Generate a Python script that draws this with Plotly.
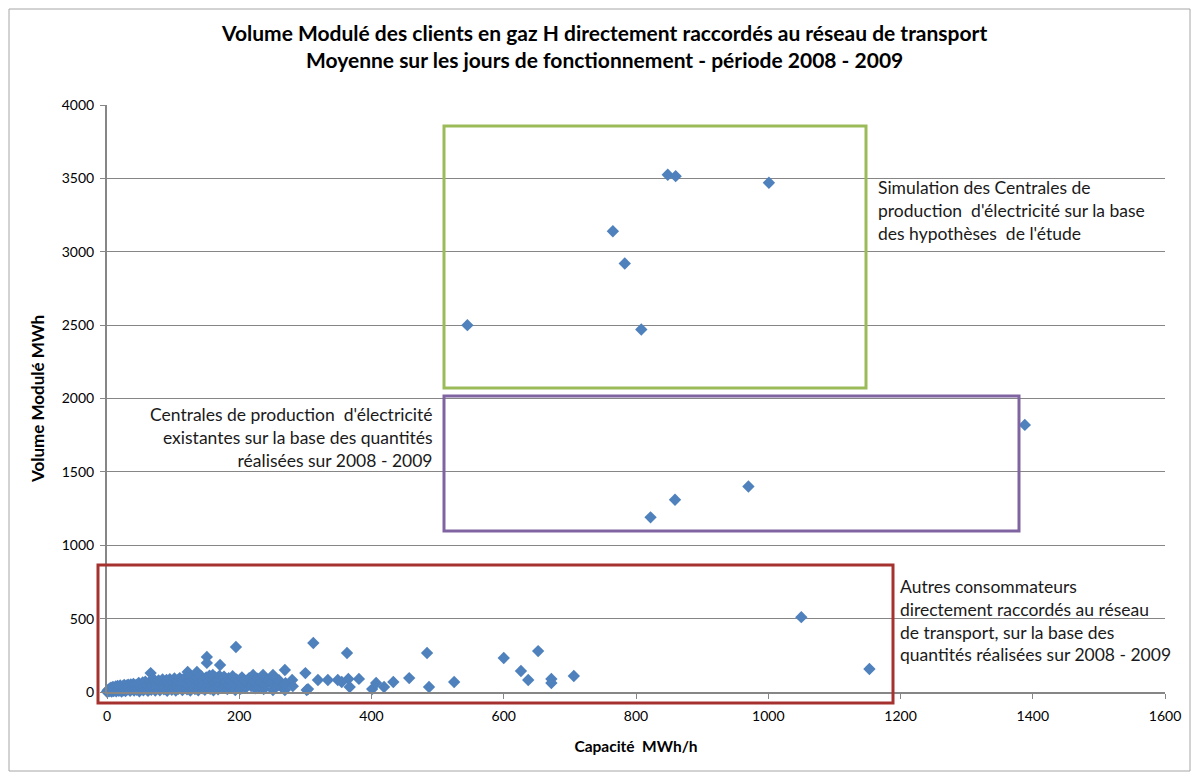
import plotly.graph_objects as go

# ---- data ----
# Autres consommateurs (raccordés au réseau de transport)
autres_x = [0, 1, 2, 3, 4, 5, 6, 7, 8, 9, 10, 11, 12, 13, 14, 15, 16, 17, 18, 19,
            20, 21, 22, 24, 25, 26, 27, 28, 30, 31, 32, 34, 35, 36, 38, 40, 41, 42, 44, 45,
            46, 48, 49, 50, 52, 54, 55, 56, 58, 60, 61, 62, 64, 65, 66, 67, 68, 70, 72, 73,
            74, 75, 77, 78, 80, 82, 84, 85, 86, 88, 90, 91, 92, 94, 95, 96, 98, 100, 101, 102,
            104, 105, 107, 108, 110, 111, 112, 114, 115, 116, 118, 120, 121, 122, 123, 125, 126, 128, 129, 130,
            132, 133, 135, 136, 137, 138, 140, 141, 142, 144, 145, 146, 148, 150, 151, 151, 152, 154, 155, 156,
            158, 159, 160, 161, 163, 164, 165, 167, 168, 170, 171, 172, 174, 175, 177, 178, 180, 182, 184, 185,
            187, 189, 190, 192, 195, 194, 196, 198, 200, 202, 204, 206, 208, 210, 212, 215, 218, 221, 222, 224,
            226, 228, 230, 233, 236, 237, 240, 244, 248, 251, 251, 254, 259, 260, 265, 269, 269, 270, 280, 281,
            300, 302, 304, 312, 319, 334, 349, 355, 363, 365, 367, 381, 401, 407, 419, 433, 457, 484, 487, 525,
            600, 626, 637, 652, 672, 672, 706, 1050, 1153]
autres_y = [2, 8, 15, 4, 22, 10, 30, 3, 18, 35, 6, 25, 12, 38, 5, 28, 42, 15, 8, 32,
            45, 20, 3, 40, 12, 48, 25, 6, 45, 18, 50, 30, 8, 52, 22, 55, 10, 35, 48, 15,
            28, 62, 5, 40, 22, 65, 12, 33, 70, 18, 45, 8, 28, 72, 129, 15, 50, 35, 80, 10,
            55, 25, 42, 78, 12, 30, 85, 50, 18, 38, 82, 8, 55, 25, 88, 45, 15, 70, 32, 92,
            10, 48, 80, 22, 95, 38, 58, 14, 85, 30, 52, 98, 18, 136, 42, 75, 10, 105, 30, 55,
            88, 20, 45, 136, 95, 12, 70, 35, 110, 25, 80, 50, 15, 100, 239, 198, 40, 75, 112, 22,
            90, 48, 116, 12, 60, 100, 32, 85, 18, 110, 184, 50, 78, 28, 105, 40, 68, 20, 95, 45,
            75, 30, 108, 55, 307, 14, 85, 40, 70, 22, 100, 48, 78, 30, 62, 95, 40, 116, 70, 25,
            55, 90, 35, 68, 116, 20, 50, 80, 61, 14, 116, 40, 48, 80, 30, 14, 150, 60, 82, 40,
            129, 14, 20, 334, 82, 82, 82, 68, 266, 89, 34, 89, 20, 61, 34, 68, 95, 266, 34, 68,
            232, 143, 82, 279, 89, 61, 109, 510, 157]

# Centrales existantes (quantités réalisées 2008 - 2009)
existantes_x = [822, 859, 970, 1388]
existantes_y = [1190, 1310, 1400, 1820]

# Simulation des centrales (hypothèses de l'étude)
simulation_x = [545, 765, 783, 808, 848, 860, 1001]
simulation_y = [2500, 3140, 2920, 2470, 3525, 3515, 3470]

x_ticks = [0, 200, 400, 600, 800, 1000, 1200, 1400, 1600]
y_ticks = [0, 500, 1000, 1500, 2000, 2500, 3000, 3500, 4000]

title_lines = ["Volume Modulé des clients en gaz H directement raccordés au réseau de transport",
               "Moyenne sur les jours de fonctionnement - période 2008 - 2009"]
x_title = "Capacité  MWh/h"
y_title = "Volume Modulé MWh"
note_simulation = ["Simulation des Centrales de", "production  d'électricité sur la base",
                   "des hypothèses  de l'étude"]
note_existantes = ["Centrales de production  d'électricité", "existantes sur la base des quantités",
                   "réalisées sur 2008 - 2009"]
note_autres = ["Autres consommateurs", "directement raccordés au réseau",
               "de transport, sur la base des", "quantités réalisées sur 2008 - 2009"]

FONT = "Lato, Open Sans, sans-serif"
BLUE = "#4f81bd"
GRID = "#868686"

fig = go.Figure()
marker = dict(symbol="diamond", size=9.5, color=BLUE, line=dict(width=0))
for xs, ys in [(autres_x, autres_y), (existantes_x, existantes_y), (simulation_x, simulation_y)]:
    fig.add_trace(go.Scatter(x=xs, y=ys, mode="markers", marker=marker,
                             cliponaxis=False, showlegend=False, hoverinfo="x+y"))

# page-pixel geometry (the page body adds an 8 px offset)
OFF = 8
W, H = 1199 - 2 * OFF, 780 - 2 * OFF
L, R, T, B = 107, 1165, 105, 692
pw, ph = R - L, B - T


def px(xp):
    return (xp - L) / pw


def py(yp):
    return (B - yp) / ph


def rect(x0, y0, x1, y1, color, width):
    fig.add_shape(type="rect", xref="paper", yref="paper",
                  x0=px(x0), x1=px(x1), y0=py(y1), y1=py(y0),
                  line=dict(color=color, width=width), fillcolor="rgba(0,0,0,0)", layer="above")


# outer chart border
rect(9, 9, 1190, 771, "#a6a6a6", 1)
# group boxes
rect(444, 126, 866, 388, "#9bbb59", 3)
rect(444, 396, 1019, 531, "#8064a2", 3)
rect(98, 565, 893, 703, "#a5322f", 3)


def note(lines, xp, yp, align, anchor):
    fig.add_annotation(text="<br>".join(lines), xref="paper", yref="paper",
                       x=px(xp), y=py(yp), xanchor=anchor, yanchor="top", align=align,
                       showarrow=False, font=dict(family=FONT, size=17.5, color="#1a1a1a"))


note(note_simulation, 876, 175, "left", "left")
note(note_existantes, 434, 402, "right", "right")
note(note_autres, 898, 574, "left", "left")

fig.add_annotation(text="<b>" + "<br>".join(title_lines) + "</b>", xref="paper", yref="paper",
                   x=px(604), y=py(18), xanchor="center", yanchor="top", showarrow=False,
                   font=dict(family=FONT, size=21, color="#000000"))

fig.update_layout(
    width=W, height=H,
    margin=dict(l=L - OFF, r=W - (R - OFF), t=T - OFF, b=H - (B - OFF), autoexpand=False),
    paper_bgcolor="white", plot_bgcolor="white",
    font=dict(family=FONT, size=14, color="#000000"),
    showlegend=False,
)
fig.update_xaxes(range=[0, 1600], tickvals=x_ticks, showgrid=False, zeroline=False,
                 showline=True, linecolor=GRID, linewidth=2, ticks="outside", ticklen=5,
                 tickcolor=GRID, tickfont=dict(size=14), ticklabelstandoff=5,
                 title=dict(text="<b>" + x_title + "</b>", font=dict(size=15.5), standoff=18))
fig.update_yaxes(range=[0, 4000], tickvals=y_ticks, showgrid=True, gridcolor=GRID, gridwidth=1,
                 zeroline=False, showline=True, linecolor=GRID, linewidth=2, ticks="outside",
                 ticklen=5, tickcolor=GRID, tickfont=dict(size=14), ticklabelstandoff=3,
                 title=dict(text="<b>" + y_title + "</b>", font=dict(size=17), standoff=13))

fig.write_html("out.html")
